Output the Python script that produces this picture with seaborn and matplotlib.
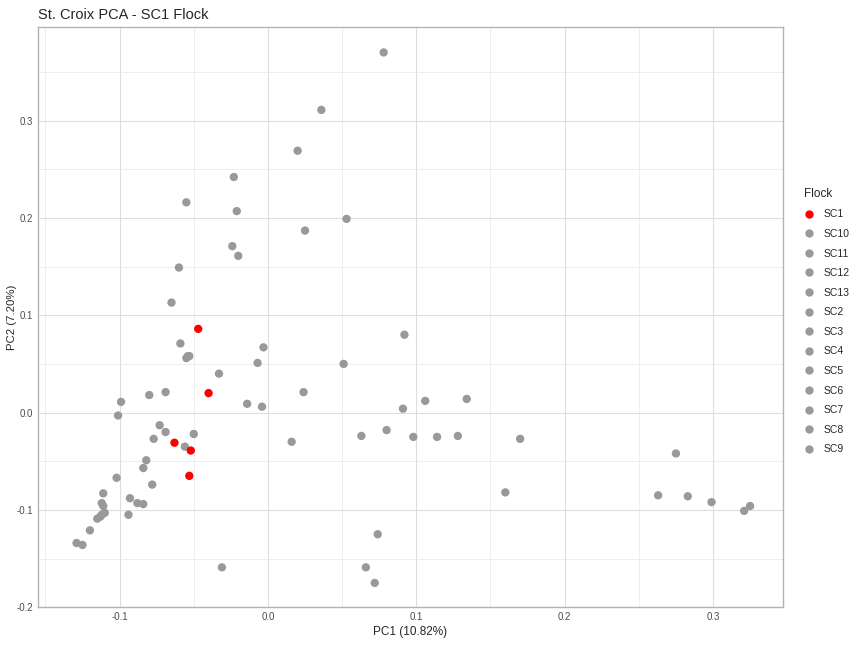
import numpy as np
import pandas as pd
import seaborn as sns
import matplotlib.pyplot as plt
from matplotlib.ticker import MultipleLocator

# gray flocks (all non-SC1 points)
pc1_other = [0.078, 0.036, 0.020, -0.023, -0.055, -0.021, 0.053, 0.025, -0.024, -0.020,
             -0.060, -0.065, -0.059, -0.003, -0.055, -0.054, -0.053, -0.007, -0.033, 0.092,
             0.051, -0.069, -0.080, -0.099, -0.101, -0.014, -0.004, 0.024, 0.091, 0.106,
             0.134, 0.063, 0.080, 0.098, 0.114, 0.128, 0.170, 0.016, -0.073, -0.069,
             -0.077, -0.050, -0.056, -0.082, -0.084, -0.102, -0.078, -0.111, -0.112, -0.111,
             -0.093, -0.088, -0.084, -0.094, -0.110, -0.112, -0.113, -0.115, -0.120, -0.129,
             -0.125, 0.275, 0.263, 0.283, 0.299, 0.321, 0.325, 0.160, 0.074, 0.066,
             0.072, -0.031]
pc2_other = [0.370, 0.311, 0.269, 0.242, 0.216, 0.207, 0.199, 0.187, 0.171, 0.161,
             0.149, 0.113, 0.071, 0.067, 0.056, 0.058, 0.058, 0.051, 0.040, 0.080,
             0.050, 0.021, 0.018, 0.011, -0.003, 0.009, 0.006, 0.021, 0.004, 0.012,
             0.014, -0.024, -0.018, -0.025, -0.025, -0.024, -0.027, -0.030, -0.013, -0.020,
             -0.027, -0.022, -0.035, -0.049, -0.057, -0.067, -0.074, -0.083, -0.093, -0.096,
             -0.088, -0.093, -0.094, -0.105, -0.103, -0.105, -0.107, -0.109, -0.121, -0.134,
             -0.136, -0.042, -0.085, -0.086, -0.092, -0.101, -0.096, -0.082, -0.125, -0.159,
             -0.175, -0.159]
flock_other = ["SC2", "SC2", "SC2", "SC3", "SC3", "SC3", "SC2", "SC2", "SC3", "SC3",
               "SC4", "SC4", "SC4", "SC5", "SC4", "SC4", "SC4", "SC5", "SC5", "SC6",
               "SC6", "SC7", "SC7", "SC7", "SC7", "SC5", "SC5", "SC6", "SC8", "SC8",
               "SC8", "SC6", "SC8", "SC8", "SC8", "SC8", "SC9", "SC5", "SC10", "SC10",
               "SC10", "SC10", "SC10", "SC11", "SC11", "SC11", "SC11", "SC12", "SC12", "SC12",
               "SC11", "SC11", "SC11", "SC12", "SC12", "SC12", "SC12", "SC12", "SC13", "SC13",
               "SC13", "SC9", "SC9", "SC9", "SC9", "SC9", "SC9", "SC9", "SC6", "SC6",
               "SC6", "SC5"]

# SC1 flock
pc1_sc1 = [-0.047, -0.040, -0.063, -0.052, -0.053]
pc2_sc1 = [0.086, 0.020, -0.031, -0.039, -0.065]

flocks = ["SC1", "SC10", "SC11", "SC12", "SC13", "SC2", "SC3", "SC4",
          "SC5", "SC6", "SC7", "SC8", "SC9"]

df = pd.DataFrame({
    "PC1": pc1_other + pc1_sc1,
    "PC2": pc2_other + pc2_sc1,
    "Flock": flock_other + ["SC1"] * len(pc1_sc1),
})

palette = {f: "#999999" for f in flocks}
palette["SC1"] = "#FF0000"

sns.set_style("white")
plt.rcParams["font.family"] = ["Liberation Sans", "DejaVu Sans"]

fig = plt.figure(figsize=(8.63, 6.46), dpi=100)
ax = fig.add_axes([0.044, 0.060, 0.863, 0.898])

sns.scatterplot(data=df, x="PC1", y="PC2", hue="Flock", hue_order=flocks,
                palette=palette, s=36, linewidth=0, ax=ax, zorder=3)

ax.set_xlim(-0.155, 0.347)
ax.set_ylim(-0.2, 0.396)
ax.xaxis.set_major_locator(MultipleLocator(0.1))
ax.yaxis.set_major_locator(MultipleLocator(0.1))
ax.xaxis.set_minor_locator(MultipleLocator(0.05))
ax.yaxis.set_minor_locator(MultipleLocator(0.05))
ax.grid(which="major", color="#DEDEDE", linewidth=0.8)
ax.grid(which="minor", color="#E8E8E8", linewidth=0.5)
ax.set_axisbelow(True)
for sp in ax.spines.values():
    sp.set_color("#B3B3B3")
    sp.set_linewidth(1.0)
ax.tick_params(which="major", length=2, color="#B3B3B3", labelsize=7, labelcolor="#4D4D4D", pad=1.5)
ax.tick_params(which="minor", length=0)
ax.xaxis.set_major_formatter(plt.FuncFormatter(lambda v, p: f"{v:.1f}"))
ax.yaxis.set_major_formatter(plt.FuncFormatter(lambda v, p: f"{v:.1f}"))

ax.set_xlabel("PC1 (10.82%)", fontsize=8.5, labelpad=3)
ax.set_ylabel("PC2 (7.20%)", fontsize=8.2)
ax.yaxis.set_label_coords(-0.0285, 0.5)
ax.set_title("St. Croix PCA - SC1 Flock", fontsize=10.5, loc="left", pad=6)

leg = ax.legend(title="Flock", loc="center left", bbox_to_anchor=(0.927, 0.503),
                bbox_transform=fig.transFigure, frameon=False, fontsize=7.5,
                title_fontsize=8.5, labelspacing=0.92, handlelength=1.0,
                handletextpad=0.9, borderaxespad=0)
leg._legend_box.align = "left"

fig.savefig("out.png", dpi=100)
